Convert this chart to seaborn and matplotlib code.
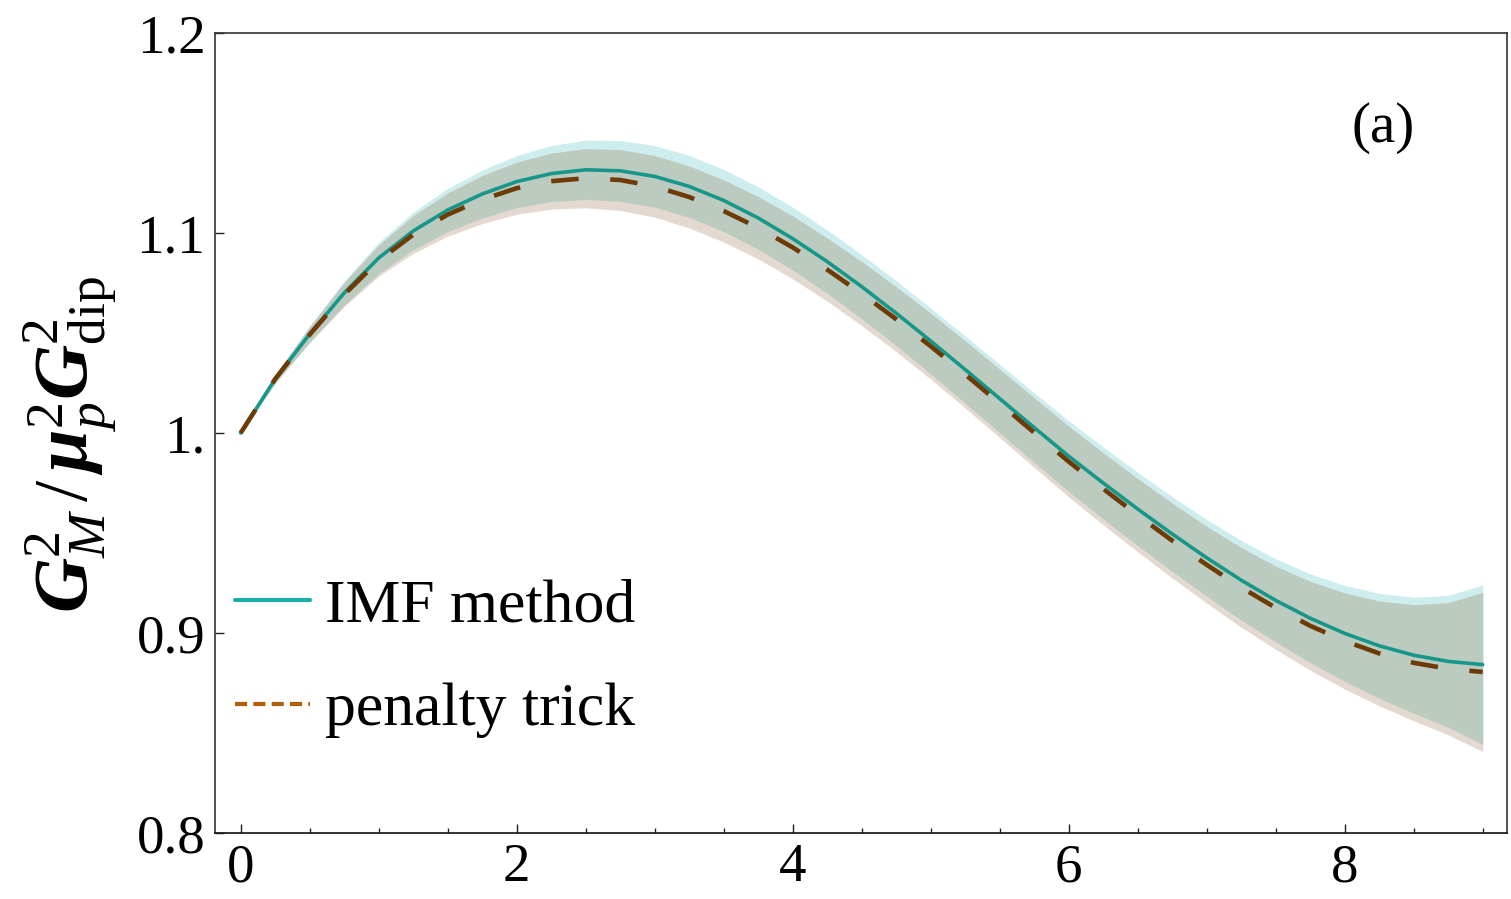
import numpy as np
import pandas as pd
import matplotlib
matplotlib.use("Agg")
import matplotlib.pyplot as plt
import seaborn as sns
from matplotlib.lines import Line2D
from matplotlib.ticker import MultipleLocator, FixedLocator

# ---------------- data ----------------
q2 = [0.00, 0.25, 0.50, 0.75, 1.00, 1.25, 1.50, 1.75, 2.00, 2.25, 2.50, 2.75,
      3.00, 3.25, 3.50, 3.75, 4.00, 4.25, 4.50, 4.75, 5.00, 5.25, 5.50, 5.75,
      6.00, 6.25, 6.50, 6.75, 7.00, 7.25, 7.50, 7.75, 8.00, 8.25, 8.50, 8.75, 9.00]

imf_center = [1.0000, 1.0270, 1.0495, 1.0700, 1.0875, 1.1010, 1.1115, 1.1195,
              1.1257, 1.1297, 1.1316, 1.1311, 1.1283, 1.1233, 1.1163, 1.1075,
              1.0972, 1.0857, 1.0732, 1.0599, 1.0460, 1.0317, 1.0172, 1.0027,
              0.9884, 0.9750, 0.9620, 0.9495, 0.9376, 0.9264, 0.9163, 0.9074,
              0.8998, 0.8936, 0.8889, 0.8858, 0.8842]

pen_center = [1.0000, 1.0270, 1.0492, 1.0692, 1.0862, 1.0992, 1.1092, 1.1167,
              1.1224, 1.1259, 1.1274, 1.1265, 1.1233, 1.1180, 1.1110, 1.1026,
              1.0928, 1.0817, 1.0697, 1.0569, 1.0434, 1.0293, 1.0148, 1.0002,
              0.9857, 0.9721, 0.9589, 0.9462, 0.9341, 0.9228, 0.9126, 0.9036,
              0.8960, 0.8898, 0.8851, 0.8821, 0.8805]

imf_err = [0.0000, 0.0020, 0.0040, 0.0060, 0.0078, 0.0094, 0.0108, 0.0120,
           0.0130, 0.0140, 0.0148, 0.0152, 0.0154, 0.0155, 0.0155, 0.0156,
           0.0157, 0.0158, 0.0160, 0.0162, 0.0165, 0.0168, 0.0171, 0.0174,
           0.0177, 0.0180, 0.0183, 0.0187, 0.0192, 0.0199, 0.0208, 0.0222,
           0.0240, 0.0262, 0.0290, 0.0330, 0.0398]

pen_err = [0.0000, 0.0020, 0.0040, 0.0060, 0.0078, 0.0094, 0.0108, 0.0120,
           0.0130, 0.0140, 0.0148, 0.0152, 0.0154, 0.0155, 0.0155, 0.0156,
           0.0157, 0.0158, 0.0160, 0.0162, 0.0165, 0.0168, 0.0171, 0.0174,
           0.0177, 0.0180, 0.0183, 0.0187, 0.0192, 0.0199, 0.0208, 0.0222,
           0.0240, 0.0262, 0.0290, 0.0330, 0.0398]

series_labels = ["IMF method", "penalty trick"]
x_ticks = [0, 2, 4, 6, 8]
x_ticklabels = ["0", "2", "4", "6", "8"]
y_ticks = [0.8, 0.9, 1.0, 1.1, 1.2]
y_ticklabels = ["0.8", "0.9", "1.", "1.1", "1.2"]
panel_label = "(a)"
y_label = r"$\mathbfit{G}_M^2\,/\,\mathbfit{\mu}_p^2\mathbfit{G}_{\rm dip}^2$"

# ---------------- style ----------------
sns.set_theme(style="ticks")
plt.rcParams["font.family"] = ["Liberation Serif", "DejaVu Serif"]
plt.rcParams["mathtext.fontset"] = "custom"
plt.rcParams["mathtext.rm"] = "Liberation Serif"
plt.rcParams["mathtext.it"] = "Liberation Serif:italic"
plt.rcParams["mathtext.bf"] = "Liberation Serif:bold"
plt.rcParams["mathtext.bfit"] = "Liberation Serif:italic:bold"
plt.rcParams["text.color"] = "black"
plt.rcParams["axes.labelcolor"] = "black"
plt.rcParams["xtick.color"] = "black"
plt.rcParams["ytick.color"] = "black"

C_TEAL = "#17968A"
C_BROWN = "#6E3A05"
C_TEAL_LEG = "#19B0A8"
C_BROWN_LEG = "#B25E08"
C_CYAN = "#CDEDEE"
C_TAN = "#E3D9D1"
C_OVER = "#BCCBBF"

df = pd.DataFrame({"Q2": q2, "imf": imf_center, "pen": pen_center,
                   "imf_err": imf_err, "pen_err": pen_err})
df["imf_lo"] = df["imf"] - df["imf_err"]
df["imf_hi"] = df["imf"] + df["imf_err"]
df["pen_lo"] = df["pen"] - df["pen_err"]
df["pen_hi"] = df["pen"] + df["pen_err"]

fig = plt.figure(figsize=(15.11, 8.99), dpi=100)
ax = fig.add_axes([0.14229, 0.07341, 0.85506, 0.88988])

# bands
ax.fill_between(df["Q2"], df["imf_lo"], df["imf_hi"], color=C_CYAN, lw=0, zorder=1)
ax.fill_between(df["Q2"], df["pen_lo"], df["pen_hi"], color=C_TAN, lw=0, zorder=1.1)
ax.fill_between(df["Q2"], np.maximum(df["imf_lo"], df["pen_lo"]),
                np.minimum(df["imf_hi"], df["pen_hi"]), color=C_OVER, lw=0, zorder=1.2)

# central curves
sns.lineplot(data=df, x="Q2", y="imf", ax=ax, color=C_TEAL, lw=2.6,
             estimator=None, sort=False, zorder=3)
sns.lineplot(data=df, x="Q2", y="pen", ax=ax, color=C_BROWN, lw=3.3,
             estimator=None, sort=False, zorder=4,
             linestyle=(0, (6.0, 6.9)), dash_capstyle="butt")

ax.set_xlim(-0.186, 9.176)
ax.set_ylim(0.8, 1.2)

ax.xaxis.set_major_locator(FixedLocator(x_ticks))
ax.set_xticklabels(x_ticklabels)
ax.xaxis.set_minor_locator(MultipleLocator(0.5))
ax.yaxis.set_major_locator(FixedLocator(y_ticks))
ax.set_yticklabels(y_ticklabels)

ax.tick_params(axis="both", which="both", direction="in", colors="#222222",
               labelcolor="black", top=False, right=False)
ax.tick_params(axis="both", which="major", length=6.5, width=1.0,
               labelsize=39.5, pad=7)
ax.tick_params(axis="x", which="minor", length=3.6, width=1.0)

for s in ax.spines.values():
    s.set_color("#333333")
    s.set_linewidth(1.2)
ax.spines["bottom"].set_color("#111111")

ax.set_xlabel("")
ax.set_ylabel(y_label, fontsize=55)
ax.yaxis.set_label_coords(-0.074, 0.486)

ax.text(0.904, 0.881, panel_label, transform=ax.transAxes, ha="center",
        va="center", fontsize=41)

handles = [Line2D([], [], color=C_TEAL_LEG, lw=3.0),
           Line2D([], [], color=C_BROWN_LEG, lw=3.0, linestyle=(0, (2.9, 1.5)))]
ax.legend(handles, series_labels, loc="lower left", bbox_to_anchor=(0.0155, 0.1185),
          frameon=False, fontsize=44.5, handlelength=1.22, handletextpad=0.24,
          labelspacing=0.77, borderpad=0, borderaxespad=0)

fig.savefig("out.png", dpi=100)
